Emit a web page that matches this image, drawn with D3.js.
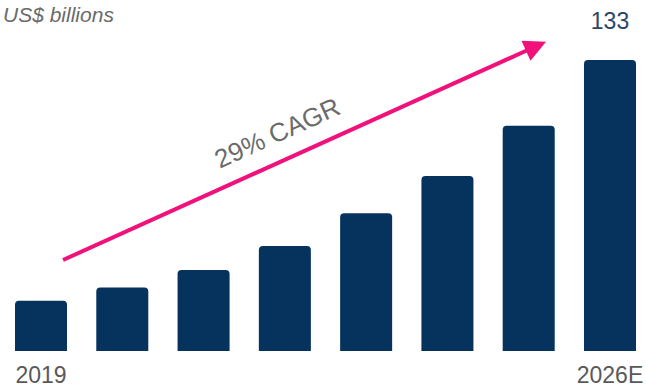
<!DOCTYPE html>
<meta charset="utf-8">
<style>
body { margin: 0; background: #fff; }
text { font-family: "Liberation Sans", Arial, sans-serif; }
</style>
<svg width="646" height="388"></svg>
<script src="https://d3js.org/d3.v7.min.js"></script>
<script>
var years = ["2019", "2020", "2021", "2022", "2023", "2024", "2025", "2026E"];
var values = [23, 29, 37, 48, 63, 80, 103, 133];
var shownLabels = ["2019", "2026E"];
var cagrText = "29% CAGR";
var unitText = "US$ billions";

var svg = d3.select("svg");
var bar_color = "#06335e", arrow_color = "#f0127a", grey = "#6b6b6b";

var x = d3.scaleBand()
    .domain(years)
    .range([15, 636])
    .paddingInner(0.36)
    .paddingOuter(0);
var y = d3.scaleLinear()
    .domain([0, 133])
    .range([351, 60]);

// bars with rounded top corners
function barPath(d, i) {
  var x0 = x(years[i]), w = x.bandwidth(), y0 = y(d), y1 = y(0), r = 4;
  return "M" + x0 + "," + y1 +
    "V" + (y0 + r) + "Q" + x0 + "," + y0 + " " + (x0 + r) + "," + y0 +
    "H" + (x0 + w - r) + "Q" + (x0 + w) + "," + y0 + " " + (x0 + w) + "," + (y0 + r) +
    "V" + y1 + "Z";
}
svg.append("g")
  .selectAll("path")
  .data(values)
  .enter().append("path")
    .attr("d", barPath)
    .attr("fill", bar_color);

// category labels, only ends
svg.append("g")
  .selectAll("text")
  .data(shownLabels)
  .enter().append("text")
    .attr("x", function(d) { return x(d) + x.bandwidth() / 2; })
    .attr("y", 383)
    .attr("text-anchor", "middle")
    .attr("fill", "#595959")
    .style("font-size", "23px")
    .text(function(d) { return d; });

// value label on last bar
var last = years.length - 1;
svg.append("text")
  .attr("x", x(years[last]) + x.bandwidth() / 2)
  .attr("y", y(values[last]) - 31)
  .attr("text-anchor", "middle")
  .attr("fill", "#2b4565")
  .style("font-size", "23px")
  .text(values[last]);

// unit
svg.append("text")
  .attr("x", 3)
  .attr("y", 22)
  .attr("fill", grey)
  .style("font-size", "21px")
  .style("font-style", "italic")
  .text(unitText);

// CAGR arrow
svg.append("defs").append("marker")
    .attr("id", "head")
    .attr("viewBox", "0 0 10 10")
    .attr("refX", 2)
    .attr("refY", 5)
    .attr("markerWidth", 6.5)
    .attr("markerHeight", 5.5)
    .attr("markerUnits", "strokeWidth")
    .attr("orient", "auto")
  .append("path")
    .attr("d", "M0,0L10,5L0,10Z")
    .attr("fill", arrow_color);

var ax0 = x(years[0]) + x.bandwidth() - 4, ay0 = 260, ax1 = 530, ay1 = 49;
svg.append("line")
  .attr("x1", ax0).attr("y1", ay0)
  .attr("x2", ax1).attr("y2", ay1)
  .attr("stroke", arrow_color)
  .attr("stroke-width", 4)
  .attr("marker-end", "url(#head)");

var angle = Math.atan2(ay1 - ay0, ax1 - ax0) * 180 / Math.PI;
svg.append("text")
  .attr("transform", "translate(281,141) rotate(" + angle + ")")
  .attr("text-anchor", "middle")
  .attr("fill", grey)
  .style("font-size", "26px")
  .text(cagrText);
</script>
